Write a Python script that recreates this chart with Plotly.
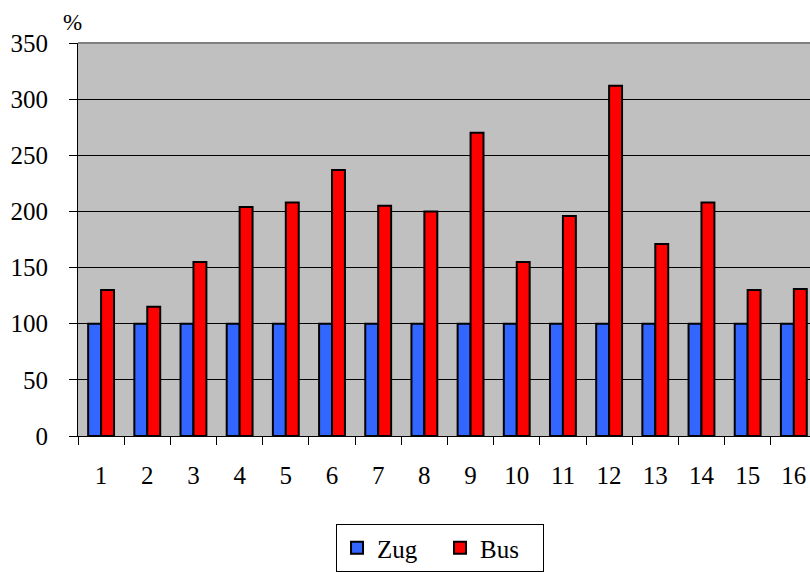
import plotly.graph_objects as go

categories = [str(i) for i in range(1, 17)]
zug = [100] * 16
bus = [130, 115, 155, 204, 208, 237, 205, 200, 270, 155, 196, 312, 171, 208, 130, 131]
y_ticks = [0, 50, 100, 150, 200, 250, 300, 350]

FONT = "Times New Roman, Liberation Serif, DejaVu Serif, serif"

fig = go.Figure()
fig.add_trace(go.Bar(x=categories, y=zug, name="Zug",
                     marker=dict(color="#3366FF", line=dict(color="black", width=2))))
fig.add_trace(go.Bar(x=categories, y=bus, name="Bus",
                     marker=dict(color="#FF0000", line=dict(color="black", width=2))))

fig.update_layout(
    width=810, height=572,
    margin=dict(l=78, r=0, t=43, b=136),
    paper_bgcolor="white",
    plot_bgcolor="#C0C0C0",
    barmode="group",
    bargap=0.44,
    bargroupgap=0,
    font=dict(family=FONT, size=25, color="black"),
    showlegend=True,
    legend=dict(
        orientation="h",
        x=0.3525, xanchor="left",
        y=-0.224, yanchor="top",
        bordercolor="black", borderwidth=1,
        bgcolor="white",
        font=dict(family=FONT, size=25, color="black"),
        entrywidth=58, entrywidthmode="pixels",
    ),
    xaxis=dict(
        type="category",
        range=[-0.5, 15.35],
        showline=True, linecolor="black", linewidth=1,
        ticks="outside", tickson="boundaries", ticklen=8, tickcolor="black",
        ticklabelstandoff=17,
        showgrid=False,
        tickfont=dict(family=FONT, size=25),
    ),
    yaxis=dict(
        range=[0, 350],
        tickvals=y_ticks,
        showline=True, linecolor="black", linewidth=1,
        ticks="outside", ticklen=8, tickcolor="black",
        ticklabelstandoff=16,
        showgrid=True, gridcolor="black", gridwidth=1,
        zeroline=False,
        tickfont=dict(family=FONT, size=25),
    ),
    annotations=[dict(
        text="%", xref="paper", yref="paper",
        x=-0.007, y=1.053, xanchor="center", yanchor="middle",
        showarrow=False, font=dict(family=FONT, size=23),
    )],
    shapes=[dict(
        type="line", xref="paper", yref="paper",
        x0=0, x1=1, y0=1, y1=1,
        line=dict(color="#808080", width=2),
    )],
)

fig.write_html("out.html")
